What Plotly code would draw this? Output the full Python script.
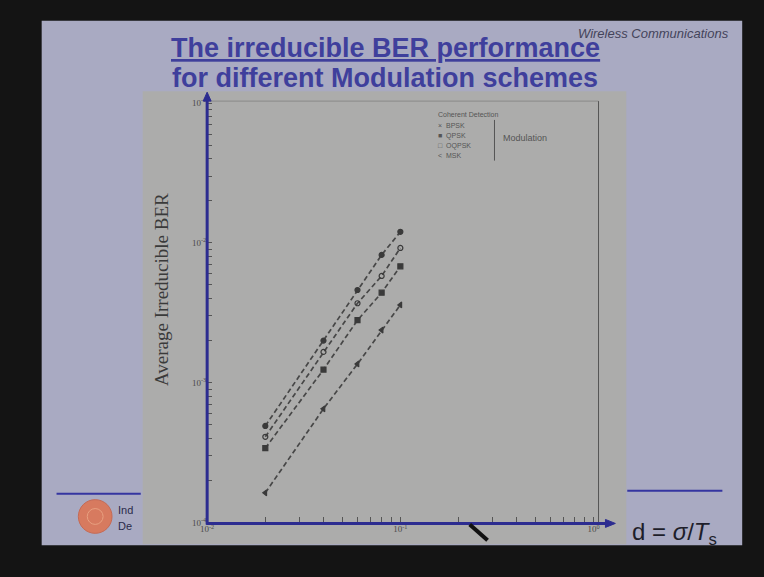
import plotly.graph_objects as go

# ---------------- data ----------------
d_values = [0.02, 0.04, 0.06, 0.08, 0.1]
ber_bpsk = [4.9e-4, 2.0e-3, 4.6e-3, 8.2e-3, 1.2e-2]
ber_qpsk = [4.1e-4, 1.66e-3, 3.7e-3, 5.8e-3, 9.2e-3]
ber_oqpsk = [3.4e-4, 1.24e-3, 2.8e-3, 4.4e-3, 6.8e-3]
ber_msk = [1.63e-4, 6.5e-4, 1.36e-3, 2.38e-3, 3.6e-3]
series_names = ["BPSK", "QPSK", "OQPSK", "MSK"]
legend_symbols = ["\u00d7", "\u25a0", "\u25a1", "<"]
x_tick_vals = [0.01, 0.1, 1]
x_tick_text = ["10<sup>-2</sup>", "10<sup>-1</sup>", "10<sup>0</sup>"]
y_tick_vals = [1e-4, 1e-3, 1e-2, 1e-1]
y_tick_text = ["10<sup>-4</sup>", "10<sup>-3</sup>", "10<sup>-2</sup>", "10<sup>-1</sup>"]

W, H = 764, 577
def px(x):
    return x / W
def py(y):
    return 1 - y / H

fig = go.Figure()

markers = ["circle", "circle-open", "square", "triangle-left"]
for name, vals, sym in zip(series_names, [ber_bpsk, ber_qpsk, ber_oqpsk, ber_msk], markers):
    fig.add_trace(go.Scatter(
        x=d_values, y=vals, mode="lines+markers", name=name,
        line=dict(color="#474747", width=1.7, dash="5px,3px"),
        marker=dict(symbol=sym, size=5, color="#3a3a3a", line=dict(color="#3a3a3a", width=1.2)),
        showlegend=False, hoverinfo="skip",
    ))

def tick_lists(decades, last, vals, texts):
    allv, allt = [], []
    for dec in decades:
        for m in range(1, 10):
            allv.append(dec * m)
    allv.append(last)
    for v in allv:
        lab = ""
        for t, tt in zip(vals, texts):
            if abs(v - t) < 1e-9 * t:
                lab = tt
        allt.append(lab)
    return allv, allt

x_all, x_txt = tick_lists([0.01, 0.1], 1.0, x_tick_vals, x_tick_text)
y_all, y_txt = tick_lists([1e-4, 1e-3, 1e-2], 1e-1, y_tick_vals, y_tick_text)

DEC_X = 195
DEC_Y = 141
x0p, x1p = 202, 612
y0p, y1p = 527, 97
fig.update_layout(
    width=W, height=H,
    margin=dict(l=0, r=0, t=0, b=0),
    paper_bgcolor="#141414",
    plot_bgcolor="rgba(0,0,0,0)",
    xaxis=dict(type="log", domain=[px(x0p), px(x1p)], range=[-2, -2 + (x1p - x0p) / DEC_X],
               tickvals=x_all, ticktext=x_txt, ticks="inside", ticklen=5, tickcolor="#555",
               tickfont=dict(size=9, color="#4a4a4a", family="Liberation Serif"),
               showgrid=False, zeroline=False, showline=False),
    yaxis=dict(type="log", domain=[py(y0p), py(y1p)], range=[-4, -4 + (y0p - y1p) / DEC_Y],
               tickvals=y_all, ticktext=y_txt, ticks="inside", ticklen=5, tickcolor="#555",
               tickfont=dict(size=9, color="#4a4a4a", family="Liberation Serif"),
               showgrid=False, zeroline=False, showline=False),
    font=dict(family="Liberation Sans"),
)

shapes = []
shapes.append(dict(type="rect", xref="paper", yref="paper", x0=px(35), x1=px(742), y0=py(550), y1=py(21),
                   fillcolor="#a9aac2", line=dict(width=0), layer="below"))
shapes.append(dict(type="rect", xref="paper", yref="paper", x0=px(137), x1=px(625), y0=py(549), y1=py(92),
                   fillcolor="#acacab", line=dict(width=0), layer="below"))
shapes.append(dict(type="line", xref="paper", yref="paper", x0=px(50), x1=px(135), y0=py(498), y1=py(498),
                   line=dict(color="#3535a0", width=2)))
shapes.append(dict(type="line", xref="paper", yref="paper", x0=px(626), x1=px(722), y0=py(495), y1=py(495),
                   line=dict(color="#3535a0", width=2)))
shapes.append(dict(type="circle", xref="paper", yref="paper", x0=px(72), x1=px(106), y0=py(538), y1=py(504),
                   fillcolor="#d77a5f", line=dict(color="#c56a55", width=1)))
shapes.append(dict(type="circle", xref="paper", yref="paper", x0=px(81), x1=px(97), y0=py(529), y1=py(513),
                   fillcolor="rgba(0,0,0,0)", line=dict(color="#e8a080", width=1)))
shapes.append(dict(type="line", xref="paper", yref="paper", x0=px(202), x1=px(597), y0=py(102), y1=py(102),
                   line=dict(color="#8a8a8a", width=1)))
shapes.append(dict(type="line", xref="paper", yref="paper", x0=px(597), x1=px(597), y0=py(527), y1=py(102),
                   line=dict(color="#555", width=1)))
blue = "#2c2c90"
shapes.append(dict(type="line", xref="paper", yref="paper", x0=px(202), x1=px(202), y0=py(529), y1=py(99),
                   line=dict(color=blue, width=3)))
shapes.append(dict(type="line", xref="paper", yref="paper", x0=px(201), x1=px(606), y0=py(528), y1=py(528),
                   line=dict(color=blue, width=3)))
shapes.append(dict(type="path", xref="paper", yref="paper",
                   path=f"M {px(198)} {py(102)} L {px(206)} {py(102)} L {px(202)} {py(93)} Z",
                   fillcolor=blue, line=dict(color=blue, width=1)))
shapes.append(dict(type="path", xref="paper", yref="paper",
                   path=f"M {px(604)} {py(524)} L {px(604)} {py(532)} L {px(614)} {py(528)} Z",
                   fillcolor=blue, line=dict(color=blue, width=1)))
shapes.append(dict(type="line", xref="paper", yref="paper", x0=px(467), x1=px(485), y0=py(529), y1=py(545),
                   line=dict(color="#111", width=4)))
shapes.append(dict(type="line", xref="paper", yref="paper", x0=px(492), x1=px(492), y0=py(121), y1=py(162),
                   line=dict(color="#555", width=1)))
fig.update_layout(shapes=shapes)

def note(text, x, y, size, color, family="Liberation Sans", xanchor="center", angle=0):
    return dict(text=text, x=px(x), y=py(y), xref="paper", yref="paper", xanchor=xanchor, yanchor="middle",
                textangle=angle, showarrow=False, font=dict(size=size, color=color, family=family))

ann = []
ann.append(note("<b><u>The irreducible BER performance</u></b>", 382, 48, 27, "#3f3f9c"))
ann.append(note("<b>for different Modulation schemes</b>", 381, 79, 27, "#3f3f9c"))
ann.append(note("<i>Wireless Communications</i>", 731, 34, 13, "#44445a", xanchor="right"))
ann.append(note("Average Irreducible BER", 156, 292, 19, "#3a3a3a", family="Liberation Serif", angle=-90))
ann.append(note("d = <i>\u03c3</i>/<i>T</i><sub>s</sub>", 629, 538, 24, "#1e1e2a", xanchor="left"))
ann.append(note("Ind", 110, 514, 11, "#2a2a4a", xanchor="left"))
ann.append(note("De", 110, 531, 11, "#2a2a4a", xanchor="left"))
ann.append(note("Coherent Detection", 433, 115, 7, "#555", xanchor="left"))
for i, (sym, name) in enumerate(zip(legend_symbols, series_names)):
    ann.append(note(f"{sym}  {name}", 433, 127 + 10 * i, 7, "#555", xanchor="left"))
ann.append(note("Modulation", 499, 139, 9, "#555", xanchor="left"))
fig.update_layout(annotations=ann)

fig.write_html("out.html", config={"displayModeBar": False},
               post_script="document.body.style.margin='0px';")
